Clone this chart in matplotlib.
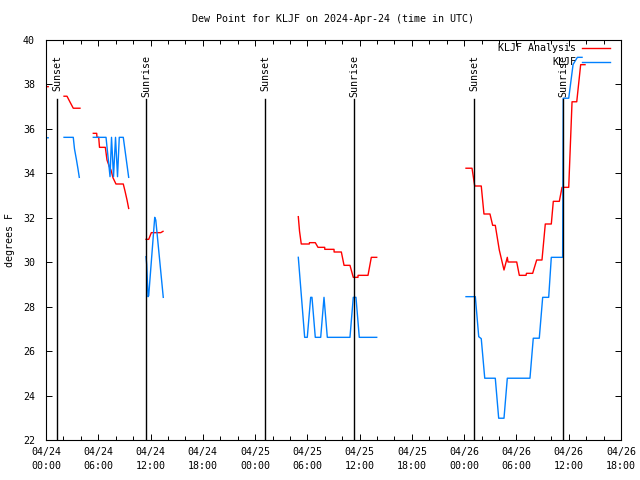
import matplotlib
matplotlib.use('Agg')
import matplotlib.pyplot as plt
import matplotlib.dates as mdates
import numpy as np
from datetime import datetime, timedelta

# hours since 2024-04-24 00:00 UTC, NaN = gap in the data
analysis_hours = [0.0, 0.25, np.nan,
                  2.07, 2.41, 2.70, 3.13, 3.90, np.nan,
                  5.43, 5.82, 5.85, 6.05, 6.14, 6.81, 7.00, 7.27, 7.46, 7.69, 8.03,
                  8.87, 9.07, 9.30, 9.49, np.nan,
                  11.48, 11.79, 12.09, 13.17, 13.43, np.nan,
                  28.96, 29.10, 29.30, 30.22, 30.24, 30.91, 31.22, 31.99, 32.00, 33.06,
                  33.07, 33.90, 34.21, 34.89, 35.27, 35.81, 35.82, 36.96, 37.34, 37.96, np.nan,
                  48.21, 48.90, 49.21, 49.96, 50.27, 50.96, 51.27, 51.57, 52.03, 52.57,
                  52.95, 53.03, 54.03, 54.33, 55.10, 55.15, 55.86, 56.32, 56.93, 57.31,
                  58.00, 58.23, 58.92, 59.23, 60.00, 60.38, 60.92, 61.37, 61.87]
analysis_dewp = [37.9, 37.9, np.nan,
                 37.47, 37.47, 37.25, 36.93, 36.93, np.nan,
                 35.8, 35.8, 35.62, 35.62, 35.17, 35.17, 34.6, 34.3, 34.15, 33.8, 33.52,
                 33.52, 33.2, 32.8, 32.42, np.nan,
                 31.03, 31.03, 31.33, 31.33, 31.39, np.nan,
                 32.05, 31.4, 30.82, 30.82, 30.88, 30.88, 30.67, 30.67, 30.58, 30.58,
                 30.46, 30.46, 29.86, 29.86, 29.32, 29.32, 29.41, 29.41, 30.22, 30.22, np.nan,
                 34.23, 34.23, 33.43, 33.43, 32.17, 32.17, 31.66, 31.66, 30.55, 29.65,
                 30.22, 30.01, 30.01, 29.41, 29.41, 29.5, 29.5, 30.1, 30.1, 31.72,
                 31.72, 32.74, 32.74, 33.37, 33.37, 37.22, 37.22, 38.89, 38.89]

obs_hours = [0.0, 0.25, np.nan,
             2.07, 3.13, 3.27, 3.50, 3.67, 3.82, np.nan,
             5.43, 6.89, 7.35, 7.52, 7.75, 7.98, 8.21, 8.41, 8.87, 9.49, np.nan,
             11.48, 11.56, 11.71, 11.79, 12.48, 12.60, 13.46, np.nan,
             28.96, 29.69, 29.99, 30.38, 30.53, 30.91, 31.53, 31.91, 32.29, 34.89,
             35.27, 35.58, 35.96, 37.96, np.nan,
             48.21, 49.28, 49.67, 49.96, 50.36, 51.57, 51.96, 52.57, 52.95, 55.55,
             55.93, 56.62, 57.01, 57.70, 58.00, 59.30, 59.37, 60.00, 60.50, 60.99, 61.53]
obs_dewp = [35.6, 35.6, np.nan,
            35.62, 35.62, 35.1, 34.6, 34.2, 33.82, np.nan,
            35.62, 35.62, 33.85, 35.62, 33.85, 35.62, 33.85, 35.62, 35.62, 33.82, np.nan,
            30.25, 29.9, 28.45, 28.5, 32.02, 31.9, 28.42, np.nan,
            30.22, 26.62, 26.62, 28.42, 28.42, 26.62, 26.62, 28.42, 26.62, 26.62,
            28.42, 28.42, 26.62, 26.62, np.nan,
            28.45, 28.45, 26.65, 26.56, 24.78, 24.78, 22.98, 22.98, 24.78, 24.78,
            26.58, 26.58, 28.42, 28.42, 30.22, 30.22, 37.38, 37.38, 38.9, 39.22, 39.22]

sun_hours = [1.26, 11.48, 25.14, 35.36, 49.14, 59.36]
sun_labels = ['Sunset', 'Sunrise', 'Sunset', 'Sunrise', 'Sunset', 'Sunrise']

start = datetime(2024, 4, 24)


def to_num(hours):
    # numero de fecha de matplotlib, conserva los huecos
    base = mdates.date2num(start)
    return [base + h / 24.0 for h in hours]


plt.rcParams['font.family'] = 'DejaVu Sans Mono'
plt.rcParams['font.size'] = 7.2

fig = plt.figure(figsize=(6.4, 4.8), dpi=100)
ax = fig.add_axes([46 / 640, 40 / 480, 575 / 640, 400 / 480])

ax.plot(to_num(analysis_hours), analysis_dewp, color='#ff0000', linewidth=1.0)
ax.plot(to_num(obs_hours), obs_dewp, color='#0080ff', linewidth=1.0)

# lineas verticales de salida / puesta del sol
for h, lab in zip(sun_hours, sun_labels):
    xn = to_num([h])[0]
    ax.axvline(xn, ymin=0, ymax=0.8525, color='black', linewidth=1.0)
    ax.text(xn, 0.9625, lab, rotation=90, ha='center', va='top',
            transform=ax.get_xaxis_transform())

ax.set_xlim(to_num([0])[0], to_num([66])[0])
ax.set_ylim(22, 40)
ax.set_yticks(np.arange(22, 41, 2))
ax.xaxis.set_major_locator(mdates.HourLocator(byhour=[0, 6, 12, 18]))
ax.xaxis.set_minor_locator(mdates.HourLocator(interval=2))
ax.xaxis.set_major_formatter(mdates.DateFormatter('%m/%d\n%H:%M'))

ax.tick_params(which='both', direction='in', top=True, right=True, width=0.7)
ax.tick_params(which='major', length=4.5)
ax.tick_params(which='minor', length=3)
ax.tick_params(axis='y', pad=8)
ax.tick_params(axis='x', pad=5)
for s in ax.spines.values():
    s.set_linewidth(0.8)

# leyenda dibujada a mano, texto alineado a la derecha
ax.plot([0.932, 0.981], [0.98, 0.98], color='#ff0000', linewidth=1.0, transform=ax.transAxes)
ax.plot([0.932, 0.981], [0.945, 0.945], color='#0080ff', linewidth=1.0, transform=ax.transAxes)
ax.text(0.922, 0.98, 'KLJF Analysis', ha='right', va='center', transform=ax.transAxes)
ax.text(0.922, 0.945, 'KLJF', ha='right', va='center', transform=ax.transAxes)

fig.text(333 / 640, 1 - 19 / 480, 'Dew Point for KLJF on 2024-Apr-24 (time in UTC)',
         ha='center', va='center')
fig.text(10 / 640, 0.5, 'degrees F', rotation=90, ha='center', va='center')

# mas separacion entre las dos lineas de las etiquetas de fecha
fig.canvas.draw()
for t in ax.get_xticklabels():
    t.set_linespacing(1.45)

fig.savefig('out.png', dpi=100)
